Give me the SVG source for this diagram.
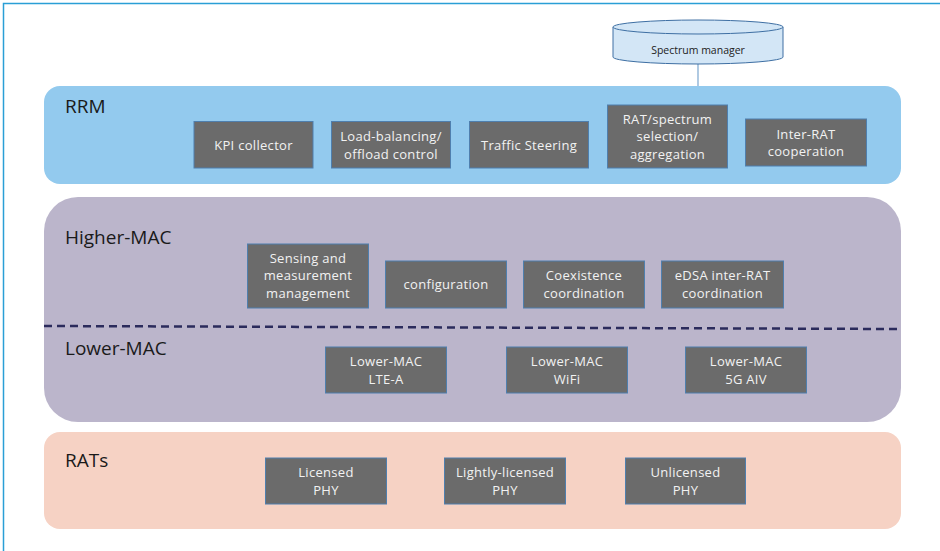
<svg xmlns="http://www.w3.org/2000/svg" width="940" height="551" viewBox="0 0 940 551">
<style>
.lbl{font-family:"Open Sans","Liberation Sans",sans-serif;font-size:19px;fill:#1a1a1a}
.box{fill:#6b6b6b;stroke:#4f7fae;stroke-width:1}
.bt{font-family:"Open Sans","Liberation Sans",sans-serif;font-size:13px;letter-spacing:0.3px;fill:#f2f2f2;text-anchor:middle}
</style>
<rect x="0" y="0" width="940" height="551" fill="#ffffff"/>
<path d="M3.5 551 V3.5 H940" fill="none" stroke="#2a9fd6" stroke-width="1.5"/>

<g id="connectors">
<line x1="698" y1="63" x2="698" y2="87" stroke="#7ba6cf" stroke-width="1.2"/>
</g>

<g id="spectrum-manager">
<path d="M613 27 V57 A85 7 0 0 0 783 57 V27" fill="#d3e6f6" stroke="#3e6fa3" stroke-width="1"/>
<ellipse cx="698" cy="27" rx="85" ry="7" fill="#d3e6f6" stroke="#3e6fa3" stroke-width="1"/>
<text x="698" y="54" text-anchor="middle" font-family="'Open Sans','Liberation Sans',sans-serif" font-size="10.5" fill="#222">Spectrum manager</text>
</g>

<g id="rrm">
<rect x="44" y="86" width="857" height="98" rx="16" fill="#93caee"/>
<text class="lbl" x="65" y="113">RRM</text>
</g>
<g id="kpi-collector"><rect class="box" x="194" y="121.5" width="119" height="46.5"/><text class="bt" x="253.5" y="150">KPI collector</text></g>
<g id="load-balancing"><rect class="box" x="331.5" y="121.5" width="119" height="46.5"/><text class="bt" x="391" y="141">Load-balancing/</text><text class="bt" x="391" y="159">offload control</text></g>
<g id="traffic-steering"><rect class="box" x="469.5" y="121.5" width="119" height="46.5"/><text class="bt" x="529" y="150">Traffic Steering</text></g>
<g id="rat-spectrum"><rect class="box" x="607.5" y="105" width="120" height="63"/><text class="bt" x="667.5" y="124">RAT/spectrum</text><text class="bt" x="667.5" y="141">selection/</text><text class="bt" x="667.5" y="159">aggregation</text></g>
<g id="inter-rat"><rect class="box" x="745.5" y="119" width="121" height="47"/><text class="bt" x="806" y="139">Inter-RAT</text><text class="bt" x="806" y="156">cooperation</text></g>

<g id="mac">
<rect x="44" y="197" width="857" height="225" rx="34" fill="#bbb5cb"/>
<text class="lbl" x="65" y="244">Higher-MAC</text>
<text class="lbl" x="65" y="355">Lower-MAC</text>
<line x1="44" y1="326" x2="897" y2="329" stroke="#2b2b5c" stroke-width="2.5" stroke-dasharray="8,5"/>
</g>
<g id="sensing"><rect class="box" x="247.5" y="244" width="121" height="64"/><text class="bt" x="308" y="263">Sensing and</text><text class="bt" x="308" y="280">measurement</text><text class="bt" x="308" y="298">management</text></g>
<g id="configuration"><rect class="box" x="385.5" y="261" width="121" height="47"/><text class="bt" x="446" y="289">configuration</text></g>
<g id="coexistence"><rect class="box" x="523.5" y="261" width="121" height="47"/><text class="bt" x="584" y="280">Coexistence</text><text class="bt" x="584" y="298">coordination</text></g>
<g id="edsa"><rect class="box" x="661.5" y="261" width="122" height="47"/><text class="bt" x="722.5" y="280">eDSA inter-RAT</text><text class="bt" x="722.5" y="298">coordination</text></g>
<g id="lowermac-ltea"><rect class="box" x="325.5" y="347" width="121" height="46"/><text class="bt" x="386" y="366">Lower-MAC</text><text class="bt" x="386" y="384">LTE-A</text></g>
<g id="lowermac-wifi"><rect class="box" x="506.5" y="347" width="121" height="46"/><text class="bt" x="567" y="366">Lower-MAC</text><text class="bt" x="567" y="384">WiFi</text></g>
<g id="lowermac-5g"><rect class="box" x="685.5" y="347" width="121" height="46"/><text class="bt" x="746" y="366">Lower-MAC</text><text class="bt" x="746" y="384">5G AIV</text></g>

<g id="rats">
<rect x="44" y="432" width="857" height="97" rx="16" fill="#f6d2c4"/>
<text class="lbl" x="65" y="467">RATs</text>
</g>
<g id="licensed"><rect class="box" x="265.5" y="458" width="121" height="46"/><text class="bt" x="326" y="477">Licensed</text><text class="bt" x="326" y="495">PHY</text></g>
<g id="lightly-licensed"><rect class="box" x="444.5" y="458" width="121" height="46"/><text class="bt" x="505" y="477">Lightly-licensed</text><text class="bt" x="505" y="495">PHY</text></g>
<g id="unlicensed"><rect class="box" x="625.5" y="458" width="120" height="46"/><text class="bt" x="685.5" y="477">Unlicensed</text><text class="bt" x="685.5" y="495">PHY</text></g>
</svg>
